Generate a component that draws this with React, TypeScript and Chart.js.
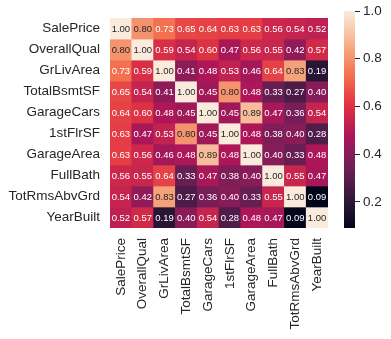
import React, { useEffect, useRef } from 'react';
import { Chart, registerables } from 'chart.js';
Chart.register(...registerables);

const labels = ['SalePrice', 'OverallQual', 'GrLivArea', 'TotalBsmtSF', 'GarageCars', '1stFlrSF', 'GarageArea', 'FullBath', 'TotRmsAbvGrd', 'YearBuilt'];

const rowSalePrice = [1.0, 0.8, 0.73, 0.65, 0.64, 0.63, 0.63, 0.56, 0.54, 0.52];
const rowOverallQual = [0.8, 1.0, 0.59, 0.54, 0.6, 0.47, 0.56, 0.55, 0.42, 0.57];
const rowGrLivArea = [0.73, 0.59, 1.0, 0.41, 0.48, 0.53, 0.46, 0.64, 0.83, 0.19];
const rowTotalBsmtSF = [0.65, 0.54, 0.41, 1.0, 0.45, 0.8, 0.48, 0.33, 0.27, 0.4];
const rowGarageCars = [0.64, 0.6, 0.48, 0.45, 1.0, 0.45, 0.89, 0.47, 0.36, 0.54];
const row1stFlrSF = [0.63, 0.47, 0.53, 0.8, 0.45, 1.0, 0.48, 0.38, 0.4, 0.28];
const rowGarageArea = [0.63, 0.56, 0.46, 0.48, 0.89, 0.48, 1.0, 0.4, 0.33, 0.48];
const rowFullBath = [0.56, 0.55, 0.64, 0.33, 0.47, 0.38, 0.4, 1.0, 0.55, 0.47];
const rowTotRmsAbvGrd = [0.54, 0.42, 0.83, 0.27, 0.36, 0.4, 0.33, 0.55, 1.0, 0.09];
const rowYearBuilt = [0.52, 0.57, 0.19, 0.4, 0.54, 0.28, 0.48, 0.47, 0.09, 1.0];

const rows = [rowSalePrice, rowOverallQual, rowGrLivArea, rowTotalBsmtSF, rowGarageCars, row1stFlrSF, rowGarageArea, rowFullBath, rowTotRmsAbvGrd, rowYearBuilt];

const colorbarTicks = [0.2, 0.4, 0.6, 0.8, 1.0];
const vmin = 0.09;
const vmax = 1.0;

const rocket: [number, string][] = [
  [0, '#03051a'], [1 / 7, '#35193e'], [2 / 7, '#701f57'], [3 / 7, '#ad1759'],
  [4 / 7, '#e13342'], [5 / 7, '#f37651'], [6 / 7, '#f6b48f'], [1, '#faebdd'],
];

const FONT = '"Liberation Sans", Arial, sans-serif';
const TEXT = '#262626';

function hexToRgb(h: string): number[] {
  return [parseInt(h.slice(1, 3), 16), parseInt(h.slice(3, 5), 16), parseInt(h.slice(5, 7), 16)];
}

function rgbFor(v: number): number[] {
  const t = Math.max(0, Math.min(1, (v - vmin) / (vmax - vmin)));
  for (let i = 0; i < rocket.length - 1; i++) {
    const [t0, c0] = rocket[i];
    const [t1, c1] = rocket[i + 1];
    if (t >= t0 && t <= t1) {
      const f = (t - t0) / (t1 - t0);
      const a = hexToRgb(c0), b = hexToRgb(c1);
      return a.map((x, k) => Math.round(x + (b[k] - x) * f));
    }
  }
  return hexToRgb(rocket[rocket.length - 1][1]);
}

function colorFor(v: number): string {
  const [r, g, b] = rgbFor(v);
  return `rgb(${r},${g},${b})`;
}

function luminance(v: number): number {
  const lin = rgbFor(v).map((c) => {
    const s = c / 255;
    return s <= 0.03928 ? s / 12.92 : Math.pow((s + 0.055) / 1.055, 2.4);
  });
  return 0.2126 * lin[0] + 0.7152 * lin[1] + 0.0722 * lin[2];
}

const annotatePlugin = {
  id: 'annotate',
  afterDatasetsDraw(chart: any) {
    const ctx = chart.ctx;
    ctx.save();
    ctx.font = `9.5px ${FONT}`;
    ctx.textAlign = 'center';
    ctx.textBaseline = 'middle';
    chart.data.datasets.forEach((_ds: any, r: number) => {
      const meta = chart.getDatasetMeta(r);
      meta.data.forEach((bar: any, c: number) => {
        const { x, y, base } = bar.getProps(['x', 'y', 'base'], true);
        const v = rows[r][c];
        ctx.fillStyle = luminance(v) > 0.408 ? TEXT : '#ffffff';
        ctx.fillText(v.toFixed(2), x, (y + base) / 2 + 0.5);
      });
    });
    ctx.restore();
  },
};

export default function App() {
  const mainRef = useRef<HTMLCanvasElement>(null);
  const cbRef = useRef<HTMLCanvasElement>(null);

  useEffect(() => {
    const main = new Chart(mainRef.current!, {
      type: 'bar',
      data: {
        labels,
        datasets: rows.map((row, r) => ({
          label: labels[r],
          data: row.map(() => 1),
          backgroundColor: row.map((v) => colorFor(v)),
          borderWidth: 0,
          barPercentage: 1,
          categoryPercentage: 1,
          stack: 's',
        })),
      },
      options: {
        responsive: false,
        animation: false,
        devicePixelRatio: 1,
        layout: { padding: { top: 11, right: 63, left: 0, bottom: 0 } },
        plugins: { legend: { display: false }, tooltip: { enabled: false } },
        scales: {
          x: {
            stacked: true,
            grid: { display: false, drawTicks: false },
            border: { display: false },
            ticks: {
              autoSkip: false,
              maxRotation: 90,
              minRotation: 90,
              padding: 10,
              color: TEXT,
              font: { family: FONT, size: 13.5 },
            },
            afterFit: (s: any) => { s.height = 111; },
          },
          y: {
            stacked: true,
            reverse: true,
            min: 0,
            max: 10,
            grid: { display: false, drawTicks: false },
            border: { display: false },
            afterBuildTicks: (s: any) => { s.ticks = labels.map((_, i) => ({ value: i + 0.5 })); },
            ticks: {
              autoSkip: false,
              padding: 10,
              color: TEXT,
              font: { family: FONT, size: 13.5 },
              callback: (_v: any, i: number) => labels[i],
            },
            afterFit: (s: any) => { s.width = 110; },
          },
        },
      },
      plugins: [annotatePlugin],
    });

    const cb = new Chart(cbRef.current!, {
      type: 'bar',
      data: {
        labels: [''],
        datasets: [{
          data: [[vmin, vmax]] as any,
          borderWidth: 0,
          barPercentage: 1,
          categoryPercentage: 1,
          backgroundColor: (ctx: any) => {
            const chart = ctx.chart;
            if (!chart.chartArea) return 'transparent';
            const ys = chart.scales.y;
            const g = chart.ctx.createLinearGradient(0, ys.getPixelForValue(vmin), 0, ys.getPixelForValue(vmax));
            rocket.forEach(([t, c]) => g.addColorStop(t, c));
            return g;
          },
        }],
      },
      options: {
        responsive: false,
        animation: false,
        devicePixelRatio: 1,
        layout: { padding: { top: 11, left: 4, bottom: 111, right: 0 } },
        plugins: { legend: { display: false }, tooltip: { enabled: false } },
        scales: {
          x: { display: false },
          y: {
            position: 'right',
            min: vmin,
            max: vmax,
            border: { display: false },
            grid: { drawOnChartArea: false, drawTicks: true, tickLength: 5, color: TEXT },
            afterBuildTicks: (s: any) => { s.ticks = colorbarTicks.map((v) => ({ value: v })); },
            ticks: {
              padding: 3,
              color: TEXT,
              font: { family: FONT, size: 13.5 },
              callback: (v: any) => Number(v).toFixed(1),
            },
            afterFit: (s: any) => { s.width = 36; },
          },
        },
      },
    });

    return () => { main.destroy(); cb.destroy(); };
  }, []);

  return (
    <div style={{ position: 'absolute', left: 0, top: 0, width: 391, height: 339, background: '#ffffff' }}>
      <canvas ref={mainRef} width={391} height={339} style={{ position: 'absolute', left: 0, top: 0 }} />
      <canvas ref={cbRef} width={51} height={339} style={{ position: 'absolute', left: 340, top: 0 }} />
    </div>
  );
}
